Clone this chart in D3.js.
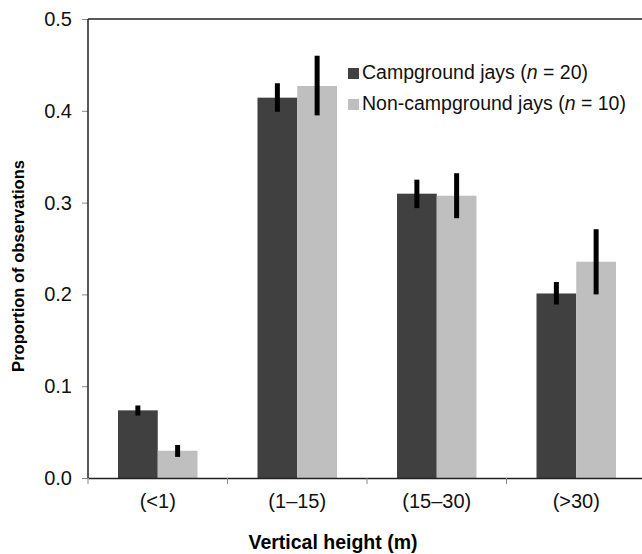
<!DOCTYPE html>
<html>
<head>
<meta charset="utf-8">
<script src="https://cdn.jsdelivr.net/npm/d3@7"></script>
<style>
  body { margin: 0; background: #fff; }
  svg { font-family: "Liberation Sans", Arial, sans-serif; }
</style>
</head>
<body>
<svg id="chart" width="642" height="554"></svg>
<script>
// chart data
var categories = ["(<1)", "(1–15)", "(15–30)", "(>30)"];
var seriesNames = ["Campground jays", "Non-campground jays"];
var seriesN = [20, 10];
var campground = [0.0737, 0.4143, 0.3097, 0.2010];
var campgroundLow = [0.068, 0.399, 0.294, 0.189];
var campgroundHigh = [0.079, 0.430, 0.325, 0.2135];
var nonCampground = [0.0297, 0.4270, 0.3075, 0.2356];
var nonCampgroundLow = [0.023, 0.395, 0.283, 0.200];
var nonCampgroundHigh = [0.036, 0.460, 0.332, 0.271];
var yTicks = [0, 0.1, 0.2, 0.3, 0.4, 0.5];

var colors = ["#404040", "#bfbfbf"];

var svg = d3.select("#chart");
var margin = {top: 19, right: -4, bottom: 76, left: 88};
var width = 642 - margin.left - margin.right;
var height = 554 - margin.top - margin.bottom;

var g = svg.append("g")
  .attr("transform", "translate(" + margin.left + "," + margin.top + ")");

var x = d3.scaleBand()
  .domain(categories)
  .range([0, width]);
var xInner = d3.scaleBand()
  .domain([0, 1])
  .range([30, x.bandwidth() - 30]);
var y = d3.scaleLinear()
  .domain([0, 0.5])
  .range([height, 0]);

var series = [
  {values: campground, low: campgroundLow, high: campgroundHigh},
  {values: nonCampground, low: nonCampgroundLow, high: nonCampgroundHigh}
];

// bars
series.forEach(function(s, si) {
  g.append("g").selectAll("rect")
    .data(categories)
    .enter().append("rect")
      .attr("x", function(d) { return x(d) + xInner(si); })
      .attr("y", function(d, i) { return y(s.values[i]); })
      .attr("width", xInner.bandwidth())
      .attr("height", function(d, i) { return y(0) - y(s.values[i]); })
      .attr("fill", colors[si]);
});

// error bars
series.forEach(function(s, si) {
  g.append("g").selectAll("line")
    .data(categories)
    .enter().append("line")
      .attr("x1", function(d) { return x(d) + xInner(si) + xInner.bandwidth() / 2; })
      .attr("x2", function(d) { return x(d) + xInner(si) + xInner.bandwidth() / 2; })
      .attr("y1", function(d, i) { return y(s.low[i]); })
      .attr("y2", function(d, i) { return y(s.high[i]); })
      .attr("stroke", "#000")
      .attr("stroke-width", 5);
});

// axes
var yAxis = g.append("g")
  .call(d3.axisLeft(y).tickValues(yTicks).tickFormat(d3.format(".1f")).tickSize(6).tickPadding(10));
yAxis.select(".domain").remove();
yAxis.selectAll(".tick line").attr("stroke", "#888");
yAxis.selectAll("text").attr("font-size", 20).attr("fill", "#111").attr("font-family", null);

g.append("line")
  .attr("x1", 0).attr("x2", 0)
  .attr("y1", 0).attr("y2", height)
  .attr("stroke", "#222").attr("stroke-width", 1.5);
g.append("line")
  .attr("x1", 0).attr("x2", width)
  .attr("y1", 0).attr("y2", 0)
  .attr("stroke", "#222").attr("stroke-width", 1.5);

var xAxis = g.append("g")
  .attr("transform", "translate(0," + height + ")")
  .call(d3.axisBottom(x).tickSize(0).tickPadding(16));
xAxis.select(".domain").attr("stroke", "#222").attr("stroke-width", 1.5);
xAxis.selectAll("text").attr("font-size", 20).attr("fill", "#111").attr("font-family", null);

// tick marks between categories
g.append("g").selectAll("line")
  .data(categories.concat([null]))
  .enter().append("line")
    .attr("x1", function(d, i) { return i * x.step(); })
    .attr("x2", function(d, i) { return i * x.step(); })
    .attr("y1", height)
    .attr("y2", height + 6)
    .attr("stroke", "#888");

// axis titles
svg.append("text")
  .attr("x", 333)
  .attr("y", 549)
  .attr("text-anchor", "middle")
  .attr("font-size", 19.5)
  .attr("font-weight", "bold")
  .text("Vertical height (m)");

svg.append("text")
  .attr("transform", "translate(24,266) rotate(-90)")
  .attr("text-anchor", "middle")
  .attr("font-size", 16.5)
  .attr("font-weight", "bold")
  .text("Proportion of observations");

// legend
var legend = svg.append("g").attr("transform", "translate(348,68)");
seriesNames.forEach(function(name, i) {
  var row = legend.append("g").attr("transform", "translate(0," + (i * 31) + ")");
  row.append("rect")
    .attr("width", 11).attr("height", 11)
    .attr("fill", colors[i]);
  var t = row.append("text")
    .attr("x", 14)
    .attr("y", 11)
    .attr("font-size", 19.5)
    .attr("fill", "#111");
  t.append("tspan").text(name + " (");
  t.append("tspan").attr("font-style", "italic").text("n");
  t.append("tspan").text(" = " + seriesN[i] + ")");
});
</script>
</body>
</html>
